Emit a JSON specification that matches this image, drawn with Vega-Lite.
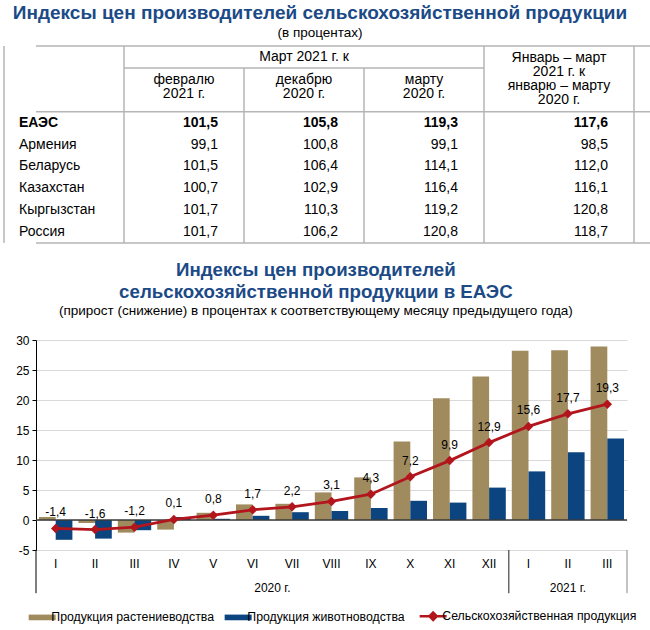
{
  "$schema": "https://vega.github.io/schema/vega-lite/v6.json",
  "padding": {"left": 3, "top": 3, "right": 5, "bottom": 0},
  "spacing": 16,
  "config": {
    "font": "Liberation Sans",
    "view": {"stroke": null},
    "axisY": {"labelOverlap": false, "labelFontSize": 12, "labelColor": "#000", "title": null, "values": [-5, 0, 5, 10, 15, 20, 25, 30], "grid": true, "gridColor": "#d9d9d9", "gridWidth": 1, "tickSize": 4, "tickColor": "#000", "domainColor": "#000", "labelPadding": 3, "minExtent": 32, "maxExtent": 32},
    "locale": {"number": {"decimal": ",", "thousands": " ", "grouping": [3], "currency": ["", ""], "minus": "-"}}
  },
  "vconcat": [
    {
      "width": 630,
      "height": 197,
      "title": {"text": "Индексы цен производителей сельскохозяйственной продукции", "subtitle": "(в процентах)", "fontSize": 19, "fontWeight": "bold", "color": "#1B4A87", "subtitleFontSize": 13.5, "subtitleColor": "#000", "subtitlePadding": 3, "offset": 6, "anchor": "middle", "frame": "bounds", "dx": -15},
      "data": {"values": [{}]},
      "layer": [
        {"mark": {"type": "rule", "color": "#b5b5b5", "strokeWidth": 1.5},
         "encoding": {"y": {"datum": "h1", "type": "nominal", "bandPosition": 0, "axis": null,
           "scale": {"type": "band", "domain": ["h1","h2","h3","ЕАЭС","Армения","Беларусь","Казахстан","Кыргызстан","Россия"], "paddingInner": 0, "paddingOuter": 0}}}},
        {"mark": {"type": "rule", "color": "#b5b5b5", "strokeWidth": 1.5},
         "encoding": {"y": {"datum": "ЕАЭС", "type": "nominal", "bandPosition": 0, "axis": null,
           "scale": {"type": "band", "domain": ["h1","h2","h3","ЕАЭС","Армения","Беларусь","Казахстан","Кыргызстан","Россия"], "paddingInner": 0, "paddingOuter": 0}}}},
        {"mark": {"type": "rule", "color": "#b5b5b5", "strokeWidth": 1.5},
         "encoding": {"y": {"datum": "Россия", "type": "nominal", "bandPosition": 1, "axis": null,
           "scale": {"type": "band", "domain": ["h1","h2","h3","ЕАЭС","Армения","Беларусь","Казахстан","Кыргызстан","Россия"], "paddingInner": 0, "paddingOuter": 0}}}},
        {"mark": {"type": "rule", "color": "#b5b5b5", "strokeWidth": 1.5},
         "encoding": {
           "y": {"datum": "h2", "type": "nominal", "bandPosition": 0, "axis": null,
             "scale": {"type": "band", "domain": ["h1","h2","h3","ЕАЭС","Армения","Беларусь","Казахстан","Кыргызстан","Россия"], "paddingInner": 0, "paddingOuter": 0}},
           "x": {"datum": "f1", "type": "nominal", "bandPosition": 0, "axis": null,
             "scale": {"type": "band", "domain": ["label","l2","l3","l4","f1","f2","f3","feb","d1","d2","d3","dec","m1","m2","m3","mar","j1","j2","j3","j4","jq"], "range": [-32, 598], "paddingInner": 0, "paddingOuter": 0}},
           "x2": {"datum": "j1", "bandPosition": 0}}},
        {"mark": {"type": "rule", "color": "#b5b5b5", "strokeWidth": 1.5},
         "encoding": {"x": {"datum": "label", "type": "nominal", "bandPosition": 0, "axis": null,
             "scale": {"type": "band", "domain": ["label","l2","l3","l4","f1","f2","f3","feb","d1","d2","d3","dec","m1","m2","m3","mar","j1","j2","j3","j4","jq"], "range": [-32, 598], "paddingInner": 0, "paddingOuter": 0}}}},
        {"mark": {"type": "rule", "color": "#b5b5b5", "strokeWidth": 1.5},
         "encoding": {"x": {"datum": "l4", "type": "nominal", "bandPosition": 1, "axis": null,
             "scale": {"type": "band", "domain": ["label","l2","l3","l4","f1","f2","f3","feb","d1","d2","d3","dec","m1","m2","m3","mar","j1","j2","j3","j4","jq"], "range": [-32, 598], "paddingInner": 0, "paddingOuter": 0}}}},
        {"mark": {"type": "rule", "color": "#b5b5b5", "strokeWidth": 1.5},
         "encoding": {"x": {"datum": "mar", "type": "nominal", "bandPosition": 1, "axis": null,
             "scale": {"type": "band", "domain": ["label","l2","l3","l4","f1","f2","f3","feb","d1","d2","d3","dec","m1","m2","m3","mar","j1","j2","j3","j4","jq"], "range": [-32, 598], "paddingInner": 0, "paddingOuter": 0}}}},
        {"mark": {"type": "rule", "color": "#b5b5b5", "strokeWidth": 1.5},
         "encoding": {"x": {"datum": "jq", "type": "nominal", "bandPosition": 1, "axis": null,
             "scale": {"type": "band", "domain": ["label","l2","l3","l4","f1","f2","f3","feb","d1","d2","d3","dec","m1","m2","m3","mar","j1","j2","j3","j4","jq"], "range": [-32, 598], "paddingInner": 0, "paddingOuter": 0}}}},
        {"mark": {"type": "rule", "color": "#b5b5b5", "strokeWidth": 1.5},
         "encoding": {
           "x": {"datum": "feb", "type": "nominal", "bandPosition": 1, "axis": null,
             "scale": {"type": "band", "domain": ["label","l2","l3","l4","f1","f2","f3","feb","d1","d2","d3","dec","m1","m2","m3","mar","j1","j2","j3","j4","jq"], "range": [-32, 598], "paddingInner": 0, "paddingOuter": 0}},
           "y": {"datum": "h2", "type": "nominal", "bandPosition": 0, "axis": null,
             "scale": {"type": "band", "domain": ["h1","h2","h3","ЕАЭС","Армения","Беларусь","Казахстан","Кыргызстан","Россия"], "paddingInner": 0, "paddingOuter": 0}},
           "y2": {"datum": "Россия", "bandPosition": 1}}},
        {"mark": {"type": "rule", "color": "#b5b5b5", "strokeWidth": 1.5},
         "encoding": {
           "x": {"datum": "dec", "type": "nominal", "bandPosition": 1, "axis": null,
             "scale": {"type": "band", "domain": ["label","l2","l3","l4","f1","f2","f3","feb","d1","d2","d3","dec","m1","m2","m3","mar","j1","j2","j3","j4","jq"], "range": [-32, 598], "paddingInner": 0, "paddingOuter": 0}},
           "y": {"datum": "h2", "type": "nominal", "bandPosition": 0, "axis": null,
             "scale": {"type": "band", "domain": ["h1","h2","h3","ЕАЭС","Армения","Беларусь","Казахстан","Кыргызстан","Россия"], "paddingInner": 0, "paddingOuter": 0}},
           "y2": {"datum": "Россия", "bandPosition": 1}}},
        {"mark": {"type": "text", "fontSize": 14, "color": "#000", "dx": -60, "align": "center", "baseline": "middle"},
         "encoding": {
           "x": {"datum": "dec", "type": "nominal", "bandPosition": 1, "axis": null,
             "scale": {"type": "band", "domain": ["label","l2","l3","l4","f1","f2","f3","feb","d1","d2","d3","dec","m1","m2","m3","mar","j1","j2","j3","j4","jq"], "range": [-32, 598], "paddingInner": 0, "paddingOuter": 0}},
           "y": {"datum": "h1", "type": "nominal", "bandPosition": 0.5, "axis": null,
             "scale": {"type": "band", "domain": ["h1","h2","h3","ЕАЭС","Армения","Беларусь","Казахстан","Кыргызстан","Россия"], "paddingInner": 0, "paddingOuter": 0}},
           "text": {"value": "Март 2021 г. к"}}},
        {"data": {"values": [
           {"key": "feb", "head": ["февралю", "2021 г."]},
           {"key": "dec", "head": ["декабрю", "2020 г."]},
           {"key": "mar", "head": ["марту", "2020 г."]}
         ]},
         "mark": {"type": "text", "fontSize": 14, "color": "#000", "align": "center", "baseline": "middle", "lineHeight": 14, "dx": -60, "dy": 1.5},
         "encoding": {
           "x": {"field": "key", "type": "nominal", "bandPosition": 1, "axis": null,
             "scale": {"type": "band", "domain": ["label","l2","l3","l4","f1","f2","f3","feb","d1","d2","d3","dec","m1","m2","m3","mar","j1","j2","j3","j4","jq"], "range": [-32, 598], "paddingInner": 0, "paddingOuter": 0}},
           "y": {"datum": "h2", "type": "nominal", "bandPosition": 0.5, "axis": null,
             "scale": {"type": "band", "domain": ["h1","h2","h3","ЕАЭС","Армения","Беларусь","Казахстан","Кыргызстан","Россия"], "paddingInner": 0, "paddingOuter": 0}},
           "text": {"field": "head"}}},
        {"data": {"values": [
           {"key": "jq", "head": ["Январь – март", "2021 г. к", "январю – марту", "2020 г."]}
         ]},
         "mark": {"type": "text", "fontSize": 14, "color": "#000", "align": "center", "baseline": "middle", "lineHeight": 14, "dx": -75, "dy": 1},
         "encoding": {
           "x": {"field": "key", "type": "nominal", "bandPosition": 1, "axis": null,
             "scale": {"type": "band", "domain": ["label","l2","l3","l4","f1","f2","f3","feb","d1","d2","d3","dec","m1","m2","m3","mar","j1","j2","j3","j4","jq"], "range": [-32, 598], "paddingInner": 0, "paddingOuter": 0}},
           "y": {"datum": "h1", "type": "nominal", "bandPosition": 0.5, "axis": null,
             "scale": {"type": "band", "domain": ["h1","h2","h3","ЕАЭС","Армения","Беларусь","Казахстан","Кыргызстан","Россия"], "paddingInner": 0, "paddingOuter": 0}},
           "text": {"field": "head"}}},
        {"data": {"name": "table"},
         "transform": [{"filter": "datum.country !== 'ЕАЭС'"}],
         "mark": {"type": "text", "fontSize": 14, "color": "#000", "align": "left", "baseline": "middle", "dx": 15},
         "encoding": {
           "x": {"datum": "label", "type": "nominal", "bandPosition": 0, "axis": null,
             "scale": {"type": "band", "domain": ["label","l2","l3","l4","f1","f2","f3","feb","d1","d2","d3","dec","m1","m2","m3","mar","j1","j2","j3","j4","jq"], "range": [-32, 598], "paddingInner": 0, "paddingOuter": 0}},
           "y": {"field": "country", "type": "nominal", "bandPosition": 0.5, "axis": null,
             "scale": {"type": "band", "domain": ["h1","h2","h3","ЕАЭС","Армения","Беларусь","Казахстан","Кыргызстан","Россия"], "paddingInner": 0, "paddingOuter": 0}},
           "text": {"field": "country"}}},
        {"data": {"name": "table"},
         "transform": [{"filter": "datum.country === 'ЕАЭС'"}],
         "mark": {"type": "text", "fontSize": 14, "fontWeight": "bold", "color": "#000", "align": "left", "baseline": "middle", "dx": 15},
         "encoding": {
           "x": {"datum": "label", "type": "nominal", "bandPosition": 0, "axis": null,
             "scale": {"type": "band", "domain": ["label","l2","l3","l4","f1","f2","f3","feb","d1","d2","d3","dec","m1","m2","m3","mar","j1","j2","j3","j4","jq"], "range": [-32, 598], "paddingInner": 0, "paddingOuter": 0}},
           "y": {"field": "country", "type": "nominal", "bandPosition": 0.5, "axis": null,
             "scale": {"type": "band", "domain": ["h1","h2","h3","ЕАЭС","Армения","Беларусь","Казахстан","Кыргызстан","Россия"], "paddingInner": 0, "paddingOuter": 0}},
           "text": {"field": "country"}}},
        {"data": {"name": "table"},
         "transform": [{"filter": "datum.country !== 'ЕАЭС'"}, {"fold": ["feb", "dec", "mar", "jq"]}],
         "mark": {"type": "text", "fontSize": 14, "color": "#000", "align": "right", "baseline": "middle", "dx": -26},
         "encoding": {
           "x": {"field": "key", "type": "nominal", "bandPosition": 1, "axis": null,
             "scale": {"type": "band", "domain": ["label","l2","l3","l4","f1","f2","f3","feb","d1","d2","d3","dec","m1","m2","m3","mar","j1","j2","j3","j4","jq"], "range": [-32, 598], "paddingInner": 0, "paddingOuter": 0}},
           "y": {"field": "country", "type": "nominal", "bandPosition": 0.5, "axis": null,
             "scale": {"type": "band", "domain": ["h1","h2","h3","ЕАЭС","Армения","Беларусь","Казахстан","Кыргызстан","Россия"], "paddingInner": 0, "paddingOuter": 0}},
           "text": {"field": "value", "type": "quantitative", "format": ".1f"}}},
        {"data": {"name": "table"},
         "transform": [{"filter": "datum.country === 'ЕАЭС'"}, {"fold": ["feb", "dec", "mar", "jq"]}],
         "mark": {"type": "text", "fontSize": 14, "fontWeight": "bold", "color": "#000", "align": "right", "baseline": "middle", "dx": -26},
         "encoding": {
           "x": {"field": "key", "type": "nominal", "bandPosition": 1, "axis": null,
             "scale": {"type": "band", "domain": ["label","l2","l3","l4","f1","f2","f3","feb","d1","d2","d3","dec","m1","m2","m3","mar","j1","j2","j3","j4","jq"], "range": [-32, 598], "paddingInner": 0, "paddingOuter": 0}},
           "y": {"field": "country", "type": "nominal", "bandPosition": 0.5, "axis": null,
             "scale": {"type": "band", "domain": ["h1","h2","h3","ЕАЭС","Армения","Беларусь","Казахстан","Кыргызстан","Россия"], "paddingInner": 0, "paddingOuter": 0}},
           "text": {"field": "value", "type": "quantitative", "format": ".1f"}}}
      ]
    },
    {
      "width": 591,
      "height": 210,
      "title": {"text": ["Индексы цен производителей", "сельскохозяйственной продукции в ЕАЭС"], "subtitle": "(прирост (снижение) в процентах к соответствующему месяцу предыдущего года)", "fontSize": 18.7, "lineHeight": 22, "fontWeight": "bold", "color": "#1B4A87", "subtitleFontSize": 13.5, "subtitleColor": "#000", "subtitlePadding": 2, "offset": 17, "anchor": "middle", "frame": "bounds"},
      "data": {"name": "months"},
      "layer": [
        {"transform": [{"fold": ["Продукция растениеводства", "Продукция животноводства"], "as": ["series", "value"]}],
         "mark": {"type": "bar"},
         "encoding": {
           "x": {"field": "month", "type": "nominal",
             "scale": {"type": "band", "domain": ["2020-I","2020-II","2020-III","2020-IV","2020-V","2020-VI","2020-VII","2020-VIII","2020-IX","2020-X","2020-XI","2020-XII","2021-I","2021-II","2021-III"], "paddingInner": 0, "paddingOuter": 0},
             "axis": {"title": null, "labelExpr": "split(datum.label, '-')[1]", "domain": false, "ticks": false, "grid": false, "labelAngle": 0, "labelPadding": 8, "labelFontSize": 12, "labelColor": "#000"}},
           "xOffset": {"field": "series", "type": "nominal", "scale": {"domain": ["Продукция растениеводства", "Продукция животноводства"], "paddingInner": 0, "paddingOuter": 0.18}},
           "y": {"field": "value", "type": "quantitative", "scale": {"domain": [-5, 30], "nice": false},
             "axis": {"title": null, "values": [-5, 0, 5, 10, 15, 20, 25, 30], "labelOverlap": false}},
           "color": {"field": "series", "type": "nominal",
             "scale": {"domain": ["Продукция растениеводства", "Продукция животноводства", "Сельскохозяйственная продукция"], "range": ["#A08B5E", "#0B447F", "#B3151D"]},
             "legend": {"title": null, "orient": "bottom", "offset": 16, "direction": "horizontal", "symbolSize": 729, "labelFontSize": 12.3, "labelColor": "#000", "labelOffset": 3, "columnPadding": 9, "labelLimit": 300,
               "encode": {"symbols": {"update": {
                 "shape": {"signal": "datum.value === 'Сельскохозяйственная продукция' ? 'M-1,0H1M0,-0.27L0.27,0L0,0.27L-0.27,0Z' : 'M-1,-0.21H1V0.21H-1Z'"},
                 "fill": {"signal": "scale('color', datum.value)"},
                 "stroke": {"signal": "scale('color', datum.value)"},
                 "strokeWidth": {"signal": "datum.value === 'Сельскохозяйственная продукция' ? 2.5 : 0"},
                 "opacity": {"value": 1},
                 "fillOpacity": {"value": 1}}}}}}}},
        {"data": {"values": [{}]},
         "mark": {"type": "rule", "color": "#3a3a3a", "strokeWidth": 1.5},
         "encoding": {"y": {"datum": 0, "type": "quantitative", "axis": {"title": null, "values": [-5, 0, 5, 10, 15, 20, 25, 30], "labelOverlap": false}}}},
        {"mark": {"type": "line", "strokeWidth": 2.8, "point": {"shape": "diamond", "size": 90, "filled": true}},
         "encoding": {
           "x": {"field": "month", "type": "nominal",
             "scale": {"type": "band", "domain": ["2020-I","2020-II","2020-III","2020-IV","2020-V","2020-VI","2020-VII","2020-VIII","2020-IX","2020-X","2020-XI","2020-XII","2021-I","2021-II","2021-III"], "paddingInner": 0, "paddingOuter": 0}},
           "y": {"field": "Сельскохозяйственная продукция", "type": "quantitative", "axis": {"title": null, "values": [-5, 0, 5, 10, 15, 20, 25, 30], "labelOverlap": false}},
           "color": {"datum": "Сельскохозяйственная продукция", "type": "nominal"}}},
        {"mark": {"type": "text", "dy": -16, "fontSize": 12, "color": "#000"},
         "encoding": {
           "x": {"field": "month", "type": "nominal",
             "scale": {"type": "band", "domain": ["2020-I","2020-II","2020-III","2020-IV","2020-V","2020-VI","2020-VII","2020-VIII","2020-IX","2020-X","2020-XI","2020-XII","2021-I","2021-II","2021-III"], "paddingInner": 0, "paddingOuter": 0}},
           "y": {"field": "Сельскохозяйственная продукция", "type": "quantitative", "axis": {"title": null, "values": [-5, 0, 5, 10, 15, 20, 25, 30], "labelOverlap": false}},
           "text": {"field": "Сельскохозяйственная продукция", "type": "quantitative", "format": ".1f"}}},
        {"data": {"values": [{}]},
         "mark": {"type": "rule", "color": "#000", "strokeWidth": 1},
         "encoding": {
           "x": {"datum": "2020-I", "type": "nominal", "bandPosition": 0,
             "scale": {"type": "band", "domain": ["2020-I","2020-II","2020-III","2020-IV","2020-V","2020-VI","2020-VII","2020-VIII","2020-IX","2020-X","2020-XI","2020-XII","2021-I","2021-II","2021-III"], "paddingInner": 0, "paddingOuter": 0}},
           "y": {"datum": -5, "type": "quantitative", "axis": {"title": null, "values": [-5, 0, 5, 10, 15, 20, 25, 30], "labelOverlap": false}},
           "y2": {"datum": -12.2}}},
        {"data": {"values": [{}]},
         "mark": {"type": "rule", "color": "#444", "strokeWidth": 1.2},
         "encoding": {
           "x": {"datum": "2021-I", "type": "nominal", "bandPosition": 0,
             "scale": {"type": "band", "domain": ["2020-I","2020-II","2020-III","2020-IV","2020-V","2020-VI","2020-VII","2020-VIII","2020-IX","2020-X","2020-XI","2020-XII","2021-I","2021-II","2021-III"], "paddingInner": 0, "paddingOuter": 0}},
           "y": {"datum": -5, "type": "quantitative", "axis": {"title": null, "values": [-5, 0, 5, 10, 15, 20, 25, 30], "labelOverlap": false}},
           "y2": {"datum": -12.2}}},
        {"data": {"values": [{}]},
         "mark": {"type": "rule", "color": "#888", "strokeWidth": 1},
         "encoding": {
           "x": {"datum": "2021-III", "type": "nominal", "bandPosition": 1,
             "scale": {"type": "band", "domain": ["2020-I","2020-II","2020-III","2020-IV","2020-V","2020-VI","2020-VII","2020-VIII","2020-IX","2020-X","2020-XI","2020-XII","2021-I","2021-II","2021-III"], "paddingInner": 0, "paddingOuter": 0}},
           "y": {"datum": -5, "type": "quantitative", "axis": {"title": null, "values": [-5, 0, 5, 10, 15, 20, 25, 30], "labelOverlap": false}},
           "y2": {"datum": -12.2}}},
        {"data": {"values": [{"year": "2020 г."}]},
         "mark": {"type": "text", "dy": 38, "fontSize": 12, "color": "#000"},
         "encoding": {
           "x": {"datum": "2020-VII", "type": "nominal", "bandPosition": 0,
             "scale": {"type": "band", "domain": ["2020-I","2020-II","2020-III","2020-IV","2020-V","2020-VI","2020-VII","2020-VIII","2020-IX","2020-X","2020-XI","2020-XII","2021-I","2021-II","2021-III"], "paddingInner": 0, "paddingOuter": 0}},
           "y": {"datum": -5, "type": "quantitative", "axis": {"title": null, "values": [-5, 0, 5, 10, 15, 20, 25, 30], "labelOverlap": false}},
           "text": {"field": "year"}}},
        {"data": {"values": [{"year": "2021 г."}]},
         "mark": {"type": "text", "dy": 38, "fontSize": 12, "color": "#000"},
         "encoding": {
           "x": {"datum": "2021-II", "type": "nominal", "bandPosition": 0.5,
             "scale": {"type": "band", "domain": ["2020-I","2020-II","2020-III","2020-IV","2020-V","2020-VI","2020-VII","2020-VIII","2020-IX","2020-X","2020-XI","2020-XII","2021-I","2021-II","2021-III"], "paddingInner": 0, "paddingOuter": 0}},
           "y": {"datum": -5, "type": "quantitative", "axis": {"title": null, "values": [-5, 0, 5, 10, 15, 20, 25, 30], "labelOverlap": false}},
           "text": {"field": "year"}}}
      ]
    }
  ],
  "datasets": {
    "table": [
      {"country": "ЕАЭС", "feb": 101.5, "dec": 105.8, "mar": 119.3, "jq": 117.6},
      {"country": "Армения", "feb": 99.1, "dec": 100.8, "mar": 99.1, "jq": 98.5},
      {"country": "Беларусь", "feb": 101.5, "dec": 106.4, "mar": 114.1, "jq": 112.0},
      {"country": "Казахстан", "feb": 100.7, "dec": 102.9, "mar": 116.4, "jq": 116.1},
      {"country": "Кыргызстан", "feb": 101.7, "dec": 110.3, "mar": 119.2, "jq": 120.8},
      {"country": "Россия", "feb": 101.7, "dec": 106.2, "mar": 120.8, "jq": 118.7}
    ],
    "months": [
      {"month": "2020-I", "Продукция растениеводства": 0.5, "Продукция животноводства": -3.3, "Сельскохозяйственная продукция": -1.4},
      {"month": "2020-II", "Продукция растениеводства": -0.5, "Продукция животноводства": -3.1, "Сельскохозяйственная продукция": -1.6},
      {"month": "2020-III", "Продукция растениеводства": -2.1, "Продукция животноводства": -1.7, "Сельскохозяйственная продукция": -1.2},
      {"month": "2020-IV", "Продукция растениеводства": -1.6, "Продукция животноводства": 0.5, "Сельскохозяйственная продукция": 0.1},
      {"month": "2020-V", "Продукция растениеводства": 1.2, "Продукция животноводства": 0.2, "Сельскохозяйственная продукция": 0.8},
      {"month": "2020-VI", "Продукция растениеводства": 2.6, "Продукция животноводства": 0.7, "Сельскохозяйственная продукция": 1.7},
      {"month": "2020-VII", "Продукция растениеводства": 2.7, "Продукция животноводства": 1.3, "Сельскохозяйственная продукция": 2.2},
      {"month": "2020-VIII", "Продукция растениеводства": 4.6, "Продукция животноводства": 1.5, "Сельскохозяйственная продукция": 3.1},
      {"month": "2020-IX", "Продукция растениеводства": 7.1, "Продукция животноводства": 2.0, "Сельскохозяйственная продукция": 4.3},
      {"month": "2020-X", "Продукция растениеводства": 13.1, "Продукция животноводства": 3.2, "Сельскохозяйственная продукция": 7.2},
      {"month": "2020-XI", "Продукция растениеводства": 20.3, "Продукция животноводства": 2.9, "Сельскохозяйственная продукция": 9.9},
      {"month": "2020-XII", "Продукция растениеводства": 23.9, "Продукция животноводства": 5.4, "Сельскохозяйственная продукция": 12.9},
      {"month": "2021-I", "Продукция растениеводства": 28.2, "Продукция животноводства": 8.1, "Сельскохозяйственная продукция": 15.6},
      {"month": "2021-II", "Продукция растениеводства": 28.3, "Продукция животноводства": 11.3, "Сельскохозяйственная продукция": 17.7},
      {"month": "2021-III", "Продукция растениеводства": 28.9, "Продукция животноводства": 13.6, "Сельскохозяйственная продукция": 19.3}
    ]
  }
}
